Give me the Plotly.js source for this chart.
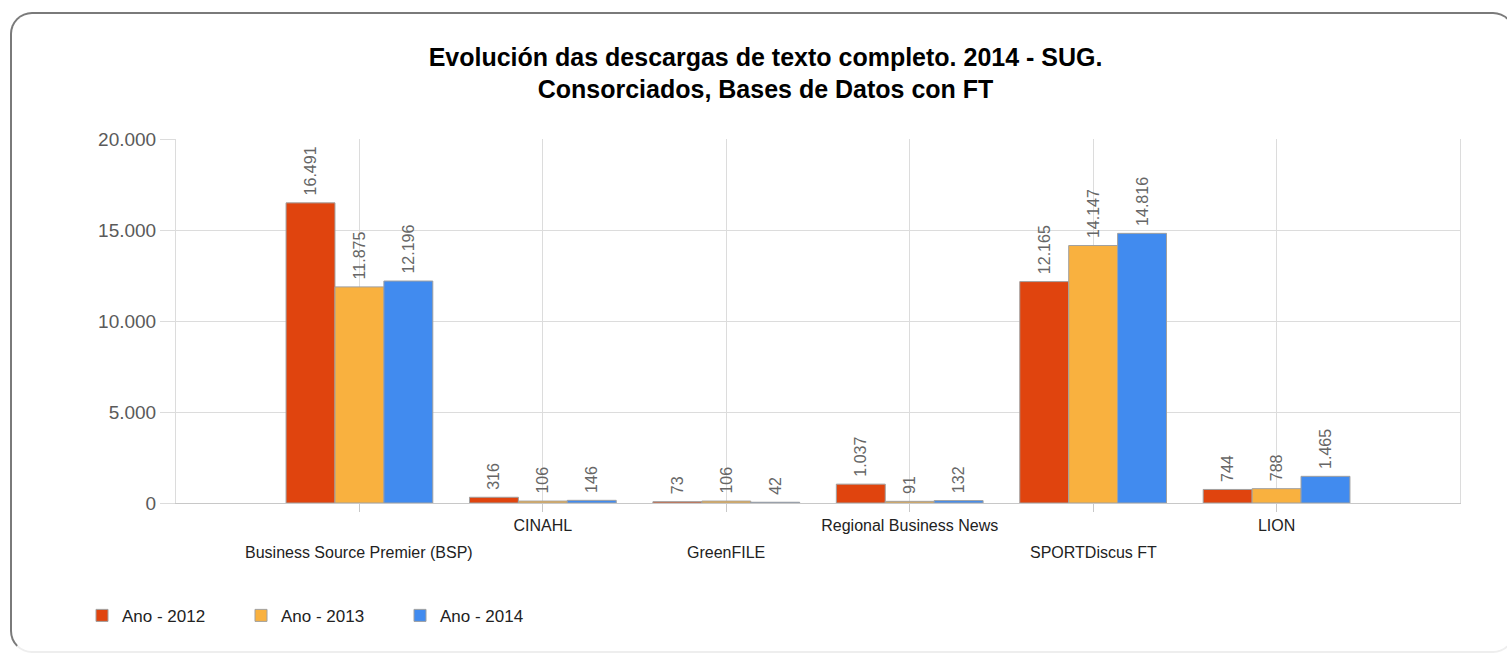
<!DOCTYPE html>
<html>
<head>
<meta charset="utf-8">
<script src="https://cdn.plot.ly/plotly-3.0.1.min.js"></script>
<style>
html,body{margin:0;padding:0;background:#fff;overflow:hidden;}
#frame{position:absolute;left:10px;top:12px;width:1505px;height:641px;border:2px solid #7a7a7a;border-radius:22px;box-sizing:border-box;border-bottom-color:#eee;}
#chart{position:absolute;left:0;top:0;width:1507px;height:656px;}
</style>
</head>
<body>
<div id="frame"></div>
<div id="chart"></div>
<script>
const categories = ["Business Source Premier (BSP)", "CINAHL", "GreenFILE", "Regional Business News", "SPORTDiscus FT", "LION"];
const seriesNames = ["Ano - 2012", "Ano - 2013", "Ano - 2014"];
const values2012 = [16491, 316, 73, 1037, 12165, 744];
const values2013 = [11875, 106, 106, 91, 14147, 788];
const values2014 = [12196, 146, 42, 132, 14816, 1465];
const yTickVals = [0, 5000, 10000, 15000, 20000];
const colors = ["#E0440E", "#F9B13F", "#418BEF"];

const FONT = "Liberation Sans, Arial, sans-serif";
const allValues = [values2012, values2013, values2014];
const traces = allValues.map((vals, i) => ({
  type: "bar",
  name: seriesNames[i],
  x: categories,
  y: vals,
  marker: {color: colors[i], line: {color: "#a0a0a0", width: 1}},
  texttemplate: "\u00a0%{y:,}",
  textposition: "outside",
  textangle: -90,
  constraintext: "none",
  textfont: {family: FONT, size: 16, color: "#666666"},
  cliponaxis: false,
  hoverinfo: "x+y+name"
}));

const topLabels = categories.map((c, i) => i % 2 === 1 ? c : "");
const annotations = categories.filter((c, i) => i % 2 === 0).map(c => ({
  x: c, xref: "x", y: 0, yref: "paper", yshift: -60,
  text: c, showarrow: false,
  font: {family: FONT, size: 16, color: "#222"}
}));

const layout = {
  width: 1507, height: 656,
  paper_bgcolor: "rgba(0,0,0,0)",
  plot_bgcolor: "rgba(0,0,0,0)",
  margin: {l: 176, r: 47, t: 139, b: 153, pad: 0},
  separators: ",.",
  title: {
    text: "<b>Evolución das descargas de texto completo. 2014 - SUG.<br>Consorciados, Bases de Datos con FT</b>",
    x: 0.508, xanchor: "center", xref: "container",
    y: 0.90, yanchor: "top", yref: "container",
    font: {family: FONT, size: 25, color: "#000"}
  },
  barmode: "group",
  bargap: 0.2,
  bargroupgap: 0,
  xaxis: {
    type: "category",
    range: [-1, 6],
    tickmode: "array",
    tickvals: categories,
    ticktext: topLabels,
    ticks: "outside", ticklen: 8, tickcolor: "#c8c8c8",
    showgrid: true, gridcolor: "#dcdcdc", gridwidth: 1,
    showline: true, linecolor: "#c8c8c8", linewidth: 1,
    tickfont: {family: FONT, size: 16, color: "#222"},
    fixedrange: true
  },
  yaxis: {
    range: [0, 20000],
    tickmode: "array",
    tickvals: yTickVals,
    tickformat: ",",
    showgrid: true, gridcolor: "#dcdcdc", gridwidth: 1,
    zeroline: false,
    showline: true, mirror: true, linecolor: "#dcdcdc", linewidth: 1,
    ticks: "outside", ticklen: 15, tickcolor: "#dcdcdc",
    tickfont: {family: FONT, size: 19, color: "#5a5a5a"},
    fixedrange: true
  },
  showlegend: true,
  legend: {
    orientation: "h",
    x: -0.0732, xanchor: "left",
    y: -0.31, yanchor: "middle",
    font: {family: FONT, size: 17, color: "#222"},
    entrywidth: 114, entrywidthmode: "pixels",
    bgcolor: "rgba(0,0,0,0)"
  },
  annotations: annotations
};

Plotly.newPlot("chart", traces, layout, {displayModeBar: false, staticPlot: true});
</script>
</body>
</html>
